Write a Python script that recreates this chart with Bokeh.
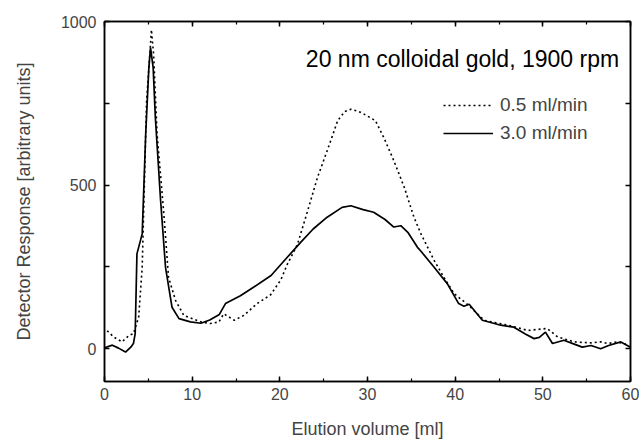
from bokeh.plotting import figure
from bokeh.models import (Range1d, LinearAxis, SingleIntervalTicker, FixedTicker,
                          Legend, LegendItem, Label)
from bokeh.embed import file_html
from bokeh.resources import INLINE

# ---- data ----
x_slow = [0.3, 1.06, 2.0, 2.8, 3.3, 3.9, 4.3, 4.5, 4.8, 5.2, 5.35, 5.6, 6.0, 6.8, 7.3,
          8.1, 9.05, 11.0, 12.1, 13.05, 13.6, 14.8, 15.9, 17.4, 18.95, 20.1, 20.85,
          22.0, 23.1, 24.3, 25.4, 26.6, 27.4, 28.1, 29.0, 29.6, 30.9, 31.9, 33.0,
          34.2, 35.3, 36.1, 37.6, 38.7, 39.9, 41.4, 43.3, 46.0, 48.3, 50.5, 51.7,
          53.6, 55.5, 56.6, 57.4, 58.5, 59.8]
y_slow = [55, 36, 21, 41, 46, 97, 249, 453, 758, 910, 975, 900, 656, 402, 219,
          148, 102, 82, 77, 82, 107, 87, 102, 138, 165, 210, 258,
          318, 415, 524, 605, 697, 725, 732, 725, 717, 697, 643, 575,
          493, 402, 351, 270, 219, 168, 136, 87, 72, 56, 62, 36,
          21, 18, 21, 16, 21, 11]

x_fast = [0.0, 0.9, 1.6, 2.4, 3.0, 3.3, 3.5, 3.7, 4.3, 4.7, 5.06, 5.25, 5.55, 5.8,
          6.4, 6.96, 7.7, 8.5, 9.8, 11.0, 12.0, 13.1, 13.8, 15.5, 17.0, 19.0, 20.8,
          22.4, 23.8, 25.4, 27.1, 28.1, 29.5, 30.7, 32.0, 33.0, 33.8, 34.6, 35.7,
          36.1, 37.6, 39.1, 40.4, 41.0, 41.6, 43.1, 45.2, 46.7, 48.0, 49.0, 49.6,
          50.3, 51.1, 52.4, 53.5, 54.5, 55.5, 56.6, 57.5, 58.9, 60.0]
y_fast = [3, 11, 2, -10, 5, 16, 46, 290, 351, 656, 859, 920, 859, 707,
          453, 249, 127, 92, 82, 78, 88, 105, 138, 162, 188, 224, 278,
          326, 366, 402, 432, 437, 425, 417, 395, 372, 376, 356, 310,
          298, 249, 199, 138, 130, 136, 87, 72, 66, 45, 31, 35,
          51, 16, 26, 15, 5, 10, 0, 10, 21, 5]

series_labels = ["0.5 ml/min", "3.0 ml/min"]
title_text = "20 nm colloidal gold, 1900 rpm"
x_label = "Elution volume [ml]"
y_label = "Detector Response [arbitrary units]"
y_ticks = [0, 500, 1000]
y_minor = [250, 750]

FONT = "Liberation Sans"

p = figure(width=639, height=439, frame_width=526, frame_height=360,
           output_backend="svg", toolbar_location=None,
           x_range=Range1d(0, 60), y_range=Range1d(-100, 1000),
           min_border_left=104, min_border_right=9, min_border_top=21,
           min_border_bottom=58, x_axis_location=None, y_axis_location=None)
p.background_fill_color = "white"
p.border_fill_color = "white"
p.xgrid.visible = False
p.ygrid.visible = False
p.outline_line_color = "black"
p.outline_line_width = 1.5


def hide_labels(ax):
    ax.major_label_text_font_size = "1px"
    ax.major_label_text_color = None
    ax.major_label_text_alpha = 0
    ax.major_label_standoff = 0


def make_xaxis(show):
    ax = LinearAxis(ticker=SingleIntervalTicker(interval=10, num_minor_ticks=2))
    ax.major_tick_in = 5
    ax.major_tick_out = 0
    ax.minor_tick_in = 3
    ax.minor_tick_out = 0
    ax.axis_line_width = 1.5
    ax.major_tick_line_width = 1.5
    ax.minor_tick_line_width = 1.2
    if show:
        ax.axis_label = x_label
        ax.axis_label_text_font = FONT
        ax.axis_label_text_font_size = "18px"
        ax.axis_label_text_font_style = "normal"
        ax.axis_label_standoff = 16
        ax.major_label_text_font = FONT
        ax.major_label_text_font_size = "16px"
        ax.major_label_standoff = 6
    else:
        hide_labels(ax)
    return ax


def make_yaxis(show):
    ax = LinearAxis(ticker=FixedTicker(ticks=y_ticks, minor_ticks=y_minor))
    ax.major_tick_in = 5
    ax.major_tick_out = 0
    ax.minor_tick_in = 5
    ax.minor_tick_out = 0
    ax.axis_line_width = 1.5
    ax.major_tick_line_width = 1.5
    ax.minor_tick_line_width = 1.5
    if show:
        ax.axis_label = y_label
        ax.axis_label_text_font = FONT
        ax.axis_label_text_font_size = "18px"
        ax.axis_label_text_font_style = "normal"
        ax.axis_label_standoff = 24
        ax.major_label_text_font = FONT
        ax.major_label_text_font_size = "16px"
        ax.major_label_standoff = 8
    else:
        hide_labels(ax)
    return ax


p.add_layout(make_xaxis(True), "below")
p.add_layout(make_xaxis(False), "above")
p.add_layout(make_yaxis(True), "left")
p.add_layout(make_yaxis(False), "right")

r_slow = p.line(x_slow, y_slow, line_color="black", line_width=1.6,
                line_dash="2 3")
r_fast = p.line(x_fast, y_fast, line_color="black", line_width=1.7)

legend = Legend(items=[LegendItem(label=series_labels[0], renderers=[r_slow]),
                       LegendItem(label=series_labels[1], renderers=[r_fast])],
                location=(339, 237))
legend.background_fill_alpha = 0
legend.border_line_color = None
legend.padding = 0
legend.margin = 0
legend.spacing = 6
legend.glyph_width = 50
legend.glyph_height = 20
legend.label_height = 20
legend.label_standoff = 7
legend.label_text_font = FONT
legend.label_text_font_size = "19px"
p.add_layout(legend)

p.add_layout(Label(x=58.7, y=885, text=title_text, text_align="right",
                   text_baseline="alphabetic", text_font=FONT,
                   text_font_size="23px", text_color="black"))

open("out.html", "w").write(file_html(p, INLINE))
